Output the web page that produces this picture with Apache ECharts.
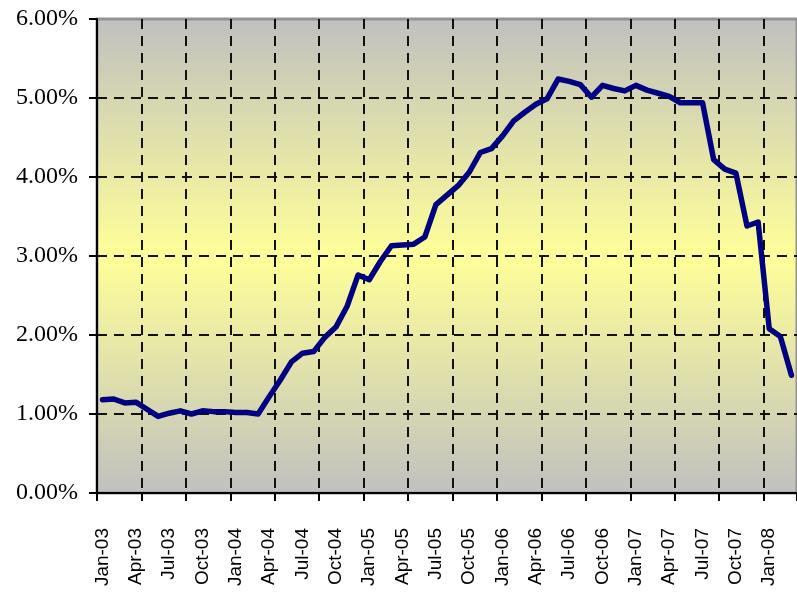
<!DOCTYPE html>
<html>
<head>
<meta charset="utf-8">
<script src="https://cdn.jsdelivr.net/npm/echarts@6/dist/echarts.min.js"></script>
<style>
html,body{margin:0;padding:0;background:#fff;}
#chart{width:797px;height:600px;}
</style>
</head>
<body>
<div id="chart"></div>
<script>
var categories = [
  'Jan-03','Feb-03','Mar-03','Apr-03','May-03','Jun-03','Jul-03','Aug-03','Sep-03','Oct-03','Nov-03','Dec-03',
  'Jan-04','Feb-04','Mar-04','Apr-04','May-04','Jun-04','Jul-04','Aug-04','Sep-04','Oct-04','Nov-04','Dec-04',
  'Jan-05','Feb-05','Mar-05','Apr-05','May-05','Jun-05','Jul-05','Aug-05','Sep-05','Oct-05','Nov-05','Dec-05',
  'Jan-06','Feb-06','Mar-06','Apr-06','May-06','Jun-06','Jul-06','Aug-06','Sep-06','Oct-06','Nov-06','Dec-06',
  'Jan-07','Feb-07','Mar-07','Apr-07','May-07','Jun-07','Jul-07','Aug-07','Sep-07','Oct-07','Nov-07','Dec-07',
  'Jan-08','Feb-08','Mar-08'
];
var rateValues = [
  1.18, 1.19, 1.14, 1.15, 1.06, 0.97, 1.01, 1.04, 1.00, 1.04, 1.03, 1.03,
  1.02, 1.02, 1.00, 1.22, 1.43, 1.66, 1.77, 1.79, 1.97, 2.10, 2.36, 2.76,
  2.70, 2.93, 3.13, 3.14, 3.15, 3.24, 3.65, 3.77, 3.89, 4.06, 4.31, 4.36,
  4.52, 4.71, 4.82, 4.92, 4.99, 5.24, 5.21, 5.17, 5.01, 5.16, 5.12, 5.09,
  5.16, 5.10, 5.06, 5.02, 4.94, 4.94, 4.94, 4.22, 4.10, 4.05, 3.38, 3.43,
  2.08, 1.98, 1.49
];
var yTicks = [0, 1, 2, 3, 4, 5, 6];

var chart = echarts.init(document.getElementById('chart'), null, {renderer: 'canvas'});
chart.setOption({
  animation: false,
  backgroundColor: '#ffffff',
  grid: {
    left: 97, top: 19, bottom: 107, right: -4,
    show: true,
    borderColor: '#939393',
    borderWidth: 3,
    backgroundColor: {
      type: 'linear', x: 0, y: 0, x2: 0, y2: 1,
      colorStops: [
        {offset: 0, color: '#c0c0c0'},
        {offset: 0.5, color: '#ffff99'},
        {offset: 1, color: '#c0c0c0'}
      ]
    }
  },
  xAxis: {
    type: 'category',
    data: categories,
    boundaryGap: true,
    axisLine: {show: true, lineStyle: {color: '#000', width: 2}},
    axisTick: {show: true, interval: 3, length: 8, inside: false, lineStyle: {color: '#000', width: 2}},
    axisLabel: {
      interval: 2,
      rotate: 90,
      margin: 35,
      color: '#000',
      fontFamily: 'Liberation Sans',
      fontSize: 19
    },
    splitLine: {
      show: true, interval: 3, showMinLine: false, showMaxLine: false,
      lineStyle: {color: '#111', width: 2, type: [10, 7]}
    }
  },
  yAxis: {
    type: 'value',
    min: yTicks[0],
    max: yTicks[yTicks.length - 1],
    interval: 1,
    axisLine: {show: true, lineStyle: {color: '#000', width: 2}},
    axisTick: {show: true, length: 8, inside: false, lineStyle: {color: '#000', width: 2}},
    axisLabel: {
      margin: 19,
      color: '#000',
      fontFamily: 'Liberation Serif',
      fontSize: 24,
      formatter: function (v) { return v.toFixed(2) + '%'; }
    },
    splitLine: {
      show: true, showMinLine: false, showMaxLine: false,
      lineStyle: {color: '#111', width: 2, type: [10, 7]}
    }
  },
  series: [{
    type: 'line',
    data: rateValues,
    symbol: 'none',
    smooth: false,
    lineStyle: {color: '#000080', width: 5.5, join: 'round', cap: 'round'},
    z: 5
  }]
});
</script>
</body>
</html>
